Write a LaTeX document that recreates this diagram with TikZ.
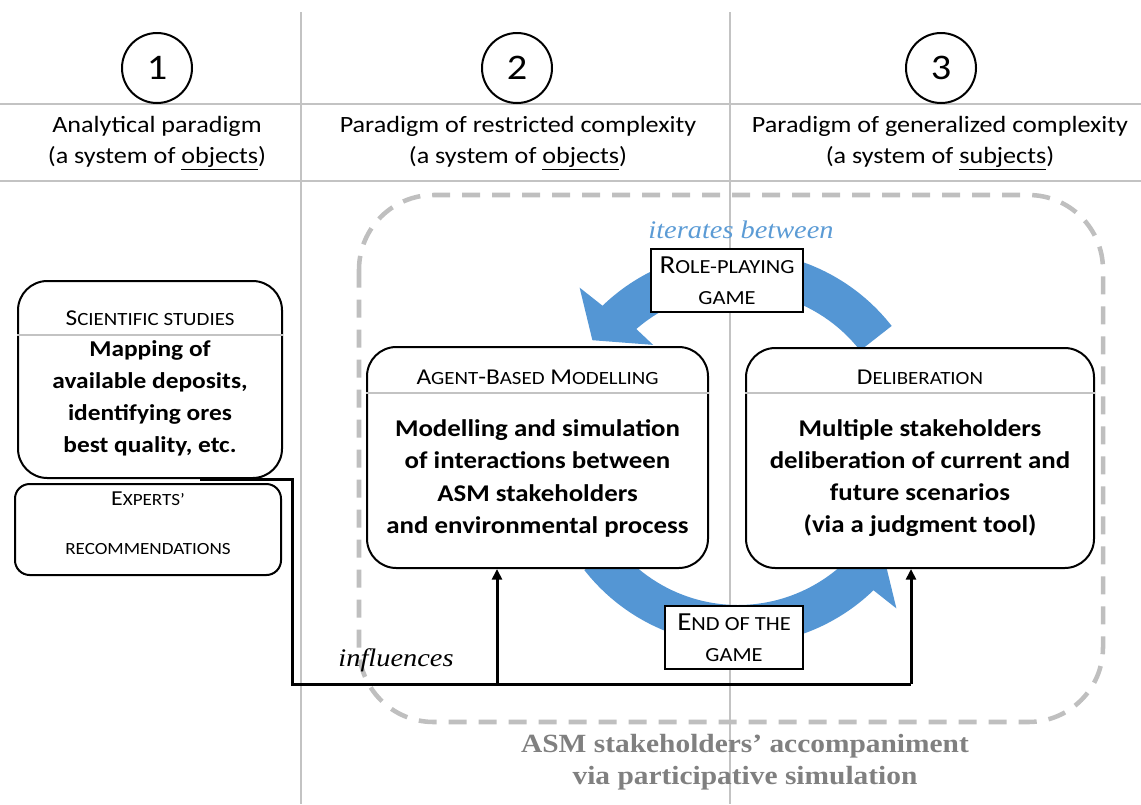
\documentclass[tikz,border=0pt]{standalone}
\usepackage{fontspec}
\setmainfont{Carlito}[FakeStretch=1.12]
\newfontfamily\timesf{Liberation Serif}[FakeStretch=1.12]
\usetikzlibrary{arrows.meta}
\definecolor{gridg}{RGB}{195,195,195}
\definecolor{dashg}{RGB}{191,191,191}
\definecolor{arrowblue}{RGB}{84,150,212}
\definecolor{txtblue}{RGB}{91,155,213}
\definecolor{bottomg}{RGB}{128,128,128}
\newcommand\smcA[1]{{\fontsize{14}{16}\selectfont #1}}
\newcommand\smcE[1]{{\fontsize{12.8}{15}\selectfont #1}}
\newcommand\smcB[1]{{\fontsize{15}{17}\selectfont #1}}
\begin{document}
\begin{tikzpicture}[x=0.75pt,y=-0.75pt,
  gridline/.style={gridg,line width=1.1pt},
  hdr/.style={font=\fontsize{17.5}{21}\selectfont,inner sep=0pt},
  num/.style={circle,draw,line width=1.5pt,minimum size=52.5pt,inner sep=0pt,font=\fontsize{27}{30}\selectfont},
  rbox/.style={draw,line width=1.5pt,rounded corners=22pt,fill=white,inner sep=0pt},
  ebox/.style={draw,line width=1.5pt,rounded corners=11pt,fill=white,inner sep=0pt},
  lbox/.style={draw,line width=1.1pt,fill=white,inner sep=0pt,align=center,font=\fontsize{19.5}{23}\selectfont},
  ttl/.style={font=\fontsize{17}{19}\selectfont,inner sep=0pt},
  body/.style={font=\fontsize{18}{24.2}\selectfont\bfseries,align=center,inner sep=0pt},
  sep/.style={gridg,line width=0.9pt},
  conn/.style={line width=2.25pt,line join=miter},
  tip/.style={-{Triangle[length=8pt,width=7.5pt]}},
  blue arrow/.style={fill=arrowblue,draw=none}
]
\useasboundingbox (0,0) rectangle (1141,804);
% grid
\draw[gridline] (301,12) -- (301,804);
\draw[gridline] (730,12) -- (730,804);
\draw[gridline] (0,104) -- (1141,104);
\draw[gridline] (0,181) -- (1141,181);
% header
\node[num,fill=white] (n1) at (157,68) {1};
\node[num,fill=white] (n2) at (517,68) {2};
\node[num,fill=white] (n3) at (941,68) {3};
\node[hdr] (h1a) at (157,126) {Analytical paradigm};
\node[hdr] (h1b) at (157,158) {(a system of \underline{objects})};
\node[hdr] (h2a) at (518,126) {Paradigm of restricted complexity};
\node[hdr] (h2b) at (518,158) {(a system of \underline{objects})};
\node[hdr] (h3a) at (940,126) {Paradigm of generalized complexity};
\node[hdr] (h3b) at (940,158) {(a system of \underline{subjects})};
% dashed frame
\draw[dashg,line width=3.4pt,dash pattern=on 13.5pt off 9pt,rounded corners=56pt] (359,195) rectangle (1103,722);
% blue circular arrows
\begin{scope}[shift={(738,446)},yscale=-1]
\path[blue arrow] (38:195) arc[start angle=38,end angle=134,radius=195] -- (135:224) -- (144:180) -- (130:132) -- (131:155) arc[start angle=131,end angle=38,radius=155] -- cycle;
\end{scope}
\begin{scope}[shift={(738,450)},yscale=-1]
\path[blue arrow] (218:195) arc[start angle=218,end angle=314,radius=195] -- (315:224) -- (324:180) -- (310:132) -- (311:155) arc[start angle=311,end angle=218,radius=155] -- cycle;
\end{scope}
% left boxes
\node[rbox,minimum width=198pt,minimum height=147.75pt] (sci) at (150,379.5) {};
\draw[sep] (sci.west |- 0,335) -- (sci.east |- 0,335);
\node[ttl] (scit) at (150,318) {S\smcA{CIENTIFIC STUDIES}};
\node[body,font=\fontsize{17}{24}\selectfont\bfseries] (scib) at (150,398.5) {Mapping of\\available deposits,\\identifying ores\\best quality, etc.};
\node[ebox,minimum width=199.5pt,minimum height=68.25pt] (exp) at (148,529.5) {};
\node[ttl,font=\fontsize{16}{19}\selectfont] (expt1) at (148,499) {E\smcE{XPERTS’}};
\node[ttl] (expt2) at (148,549) {\smcE{RECOMMENDATIONS}};
% central boxes
\node[rbox,minimum width=255.75pt,minimum height=165.75pt] (abm) at (537.5,457.5) {};
\draw[sep] (abm.west |- 0,393) -- (abm.east |- 0,393);
\node[ttl] (abmt) at (537.5,377) {A\smcA{GENT}-B\smcA{ASED} M\smcA{ODELLING}};
\node[body] (abmb) at (537.5,478.5) {Modelling and simulation\\of interactions between\\ASM stakeholders\\and environmental process};
\node[rbox,minimum width=261pt,minimum height=165pt] (delib) at (920,458) {};
\draw[sep] (delib.west |- 0,393) -- (delib.east |- 0,393);
\node[ttl] (delibt) at (920,377) {D\smcA{ELIBERATION}};
\node[body] (delibb) at (920,478) {Multiple stakeholders\\deliberation of current and\\future scenarios\\(via a judgment tool)};
% label boxes
\node[lbox,minimum width=114pt,minimum height=47.25pt] (rpg) at (727,280.5) {R\smcB{OLE-PLAYING}\\\smcB{GAME}};
\node[lbox,minimum width=103.5pt,minimum height=47.25pt] (end) at (734,637.5) {E\smcB{ND OF THE}\\\smcB{GAME}};
% influences connector
\coordinate (ci) at (200,479);
\coordinate (turn) at (292,684);
\coordinate (j1) at (497,684);
\coordinate (j2) at (911,684);
\draw[conn] (ci) -| (turn) -- (j2);
\draw[conn,tip] (j1) -- (j1 |- abm.south);
\draw[conn,tip] (j2) -- (j2 |- delib.south);
% texts
\node[font=\timesf\itshape\fontsize{19}{22}\selectfont,text=txtblue,inner sep=0pt] (iter) at (741,230) {iterates between};
\node[font=\timesf\itshape\fontsize{19}{22}\selectfont,inner sep=0pt] (infl) at (396,660) {influences};
\node[font=\timesf\bfseries\fontsize{19.7}{24}\selectfont,text=bottomg,align=center,inner sep=0pt] (capt) at (745,762) {ASM stakeholders’ accompaniment\\via participative simulation};
\end{tikzpicture}
\end{document}
